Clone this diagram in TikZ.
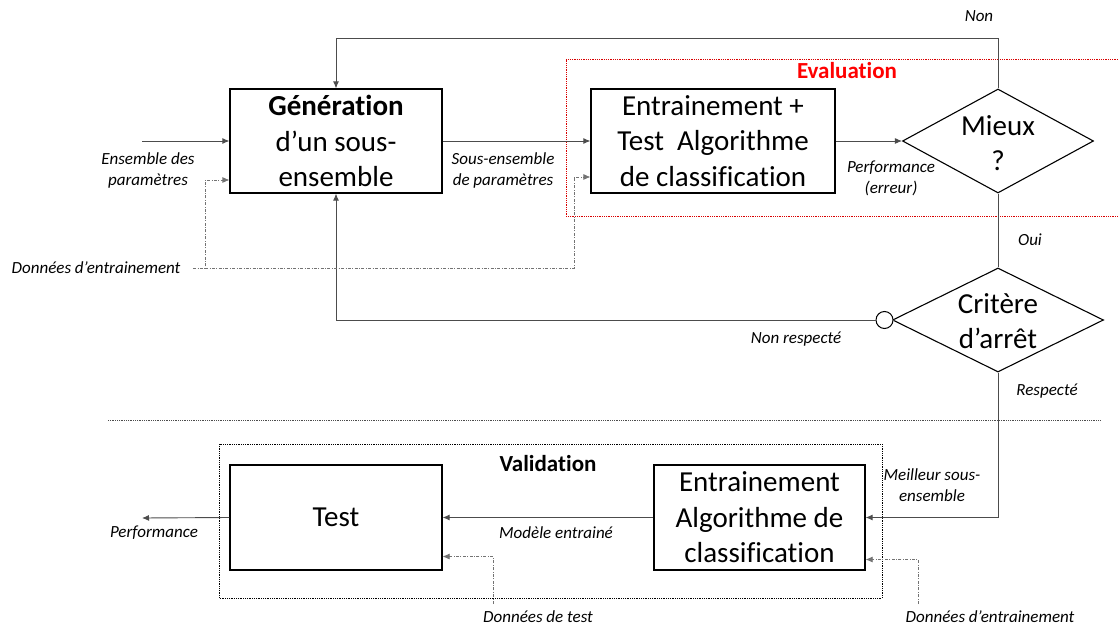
\documentclass[tikz,border=0pt]{standalone}
\usepackage{fontspec}
\setmainfont[Ligatures=NoCommon,RawFeature={-liga;-clig}]{Carlito}
\usetikzlibrary{arrows.meta,shapes.geometric,calc}
\begin{document}
\begin{tikzpicture}[x=1pt,y=-1pt,
  bigtext/.style={font=\fontsize{29}{35.5}\selectfont},
  box/.style={draw=black, line width=1.2pt, inner sep=0pt, align=center, bigtext},
  dia/.style={draw=black, line width=1.1pt, diamond, inner sep=0pt},
  lbl/.style={font=\fontsize{17}{21}\selectfont\itshape, align=center, inner sep=0pt},
  conn/.style={draw=black!70, line width=0.9pt},
  tip/.style={-{Latex[length=7pt,width=6pt]}},
  dd/.style={draw=black!55, line width=0.7pt, dash pattern=on 3pt off 1.5pt on 0.8pt off 1.5pt},
  grp/.style={font=\fontsize{23}{27}\selectfont\bfseries, inner sep=0pt}
]
\useasboundingbox (0,0) rectangle (1118,628);

% group frames
\draw[red!85!black, line width=0.8pt, densely dotted] (1118,59) -- (566,59) -- (566,216) -- (1118,216);
\draw[black!70, line width=0.8pt, densely dotted] (108,420) -- (1100,420);
\draw[black, line width=0.8pt, densely dotted] (219,444) rectangle (882,598);
\node[grp, text=red] (evl) at (847,71) {Evaluation};
\node[grp] (val) at (548,464) {Validation};

% boxes
\node[box, minimum width=212pt, minimum height=104pt] (gen) at (336,141) {\textbf{Génération}\\d’un sous-\\ensemble};
\node[box, minimum width=244pt, minimum height=104pt] (ent) at (713,141) {Entrainement +\\Test\ \ Algorithme\\de classification};
\node[box, minimum width=212pt, minimum height=105pt] (test) at (336,517.5) {Test};
\node[box, minimum width=211pt, minimum height=105pt] (entalg) at (759.5,517.5) {Entrainement\\Algorithme de\\classification};

% diamonds
\node[dia, minimum width=191pt, minimum height=104pt] (mieux) at (998,141) {};
\node[bigtext, align=center, inner sep=0pt] (mieuxt) at (998,143) {Mieux\\?};
\node[dia, minimum width=211pt, minimum height=104pt] (crit) at (998,320) {};
\node[bigtext, align=center, inner sep=0pt] (critt) at (998,321) {Critère\\d’arrêt};
\node[draw=black, line width=1pt, circle, minimum size=17pt, inner sep=0pt, fill=white] (nc) at (884.5,320) {};

% labels
\node[lbl] (lnon) at (979,16) {Non};
\node[lbl] (lens) at (148,170) {Ensemble des\\paramètres};
\node[lbl] (lsous) at (503,170) {Sous-ensemble\\de paramètres};
\node[lbl] (lperf) at (891,178) {Performance\\(erreur)};
\node[lbl] (loui) at (1030,240) {Oui};
\node[lbl] (lnr) at (796,339) {Non respecté};
\node[lbl] (lres) at (1047,391) {Respecté};
\node[lbl] (lmeil) at (932,485) {Meilleur sous-\\ensemble};
\node[lbl] (lmod) at (556,533) {Modèle entrainé};
\node[lbl] (lperf2) at (154,533) {Performance};
\node[lbl] (ldtr) at (96,268) {Données d’entrainement};
\node[lbl] (ldte) at (538,617) {Données de test};
\node[lbl] (ldtr2) at (990,617) {Données d’entrainement};

% coordinates for free ends
\coordinate (inA) at (142,141);
\coordinate (outA) at (142,518);
\coordinate (dA) at (193,268);
\coordinate (dB) at (493,604);
\coordinate (dC) at (918,604);

% connectors
\draw[conn, tip] (inA) -- (gen.west);
\draw[conn, tip] (gen.east) -- (ent.west);
\draw[conn, tip] (ent.east) -- (mieux.west);
\draw[conn, tip] (mieux.north) -- ++(0,-50) -| (gen.north);
\draw[conn] (mieux.south) -- (crit.north);
\draw[conn] (crit.west) -- (nc.east);
\draw[conn, tip] (nc.west) -| (gen.south);
\draw[conn, tip] (crit.south) |- (entalg.east);
\draw[conn, tip] (entalg.west) -- (test.east);
\draw[conn, tip] (test.west) -- (outA);

% dotted data lines
\draw[dd, tip] (dA) -- (205,268) |- ($(gen.west)+(0,39)$);
\draw[dd, tip] (205,268) -- (574,268) |- ($(ent.west)+(0,36)$);
\draw[dd, tip] (dB) |- ($(test.east)+(0,39)$);
\draw[dd, tip] (dC) |- ($(entalg.east)+(0,42)$);
\end{tikzpicture}
\end{document}
